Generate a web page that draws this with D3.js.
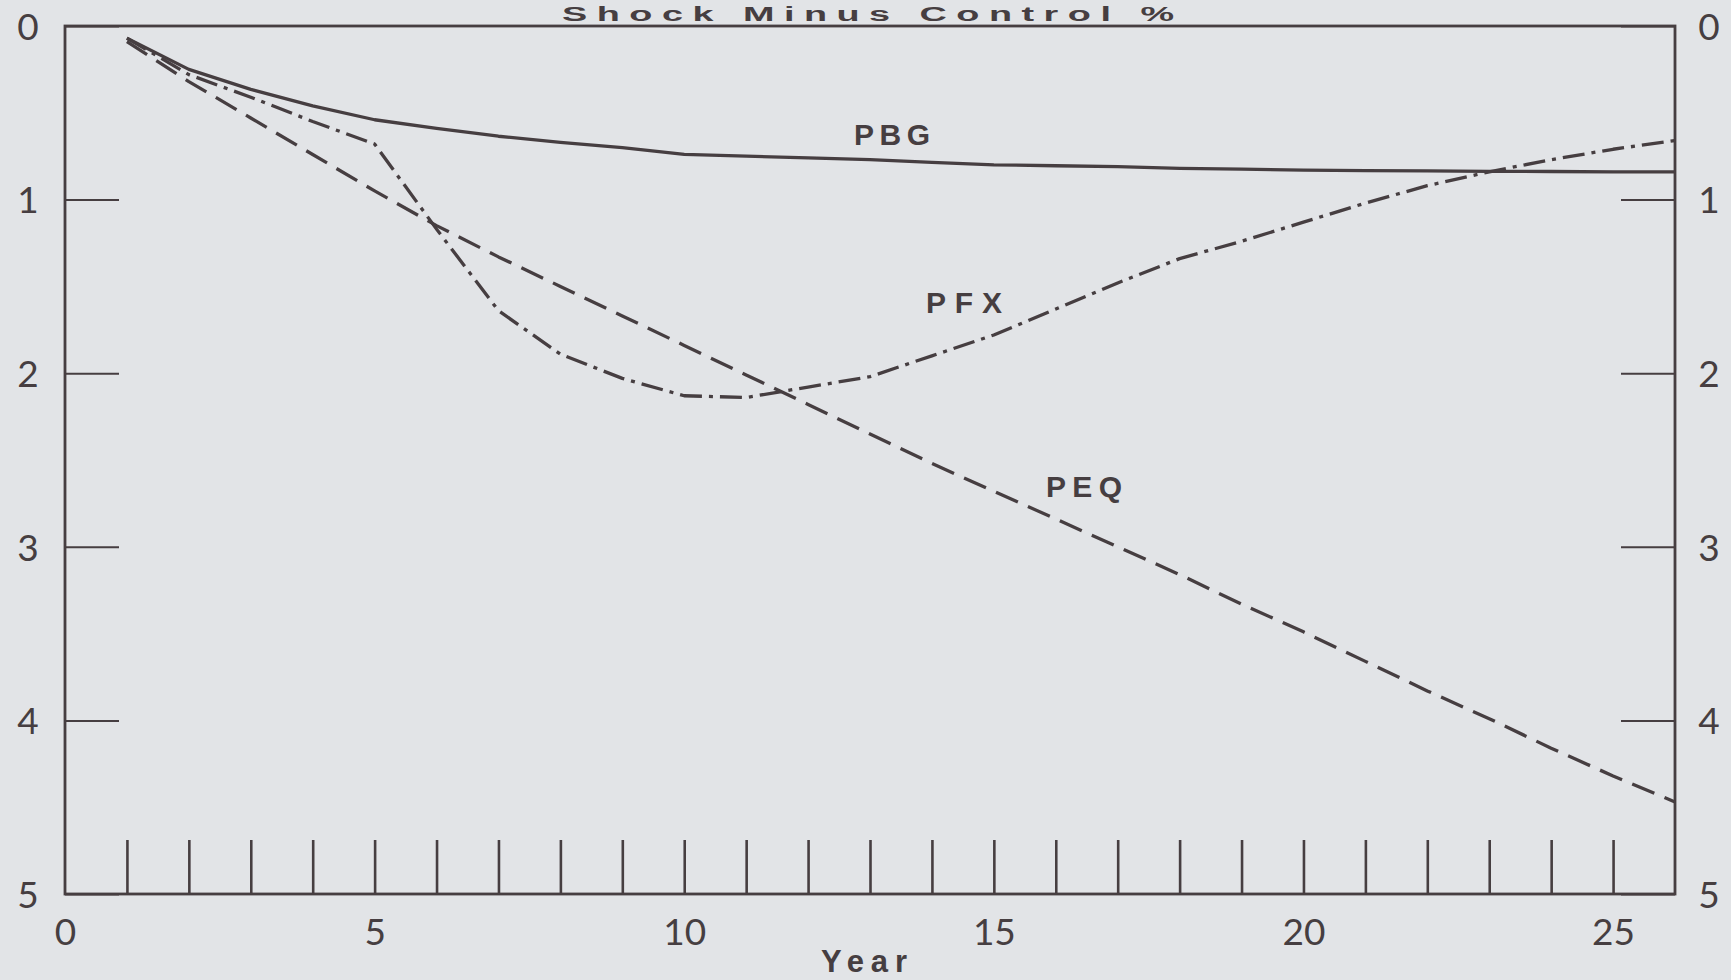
<!DOCTYPE html>
<html>
<head>
<meta charset="utf-8">
<script src="https://cdn.jsdelivr.net/npm/d3@7"></script>
<style>
  html, body { margin: 0; padding: 0; background: #e2e4e7; }
  svg { display: block; }
</style>
</head>
<body>
<svg id="chart" width="1731" height="980"></svg>
<script>
// Years after the shock
const years = d3.range(1, 27);

// Deviation from control path, percent (plotted downward)
const pbg = [0.07, 0.25, 0.365, 0.46, 0.54, 0.59, 0.635, 0.67, 0.70, 0.74,
             0.75, 0.76, 0.77, 0.785, 0.80, 0.805, 0.81, 0.82, 0.825, 0.83,
             0.833, 0.835, 0.837, 0.838, 0.84, 0.84];
const pfx = [0.07, 0.28, 0.41, 0.55, 0.68, 1.17, 1.64, 1.89, 2.03, 2.13,
             2.14, 2.08, 2.02, 1.90, 1.78, 1.63, 1.48, 1.34, 1.24, 1.13,
             1.02, 0.92, 0.84, 0.77, 0.71, 0.66];
const peq = [0.09, 0.32, 0.53, 0.74, 0.95, 1.15, 1.33, 1.50, 1.67, 1.84,
             2.01, 2.18, 2.35, 2.52, 2.68, 2.84, 3.00, 3.16, 3.33, 3.49,
             3.66, 3.83, 3.99, 4.16, 4.32, 4.47];

const seriesNames = ["PBG", "PFX", "PEQ"];
const yTickValues = [0, 1, 2, 3, 4, 5];
const xLabelValues = [0, 5, 10, 15, 20, 25];
const xTickValues = d3.range(1, 26);

const ink = "#463e41";
const svg = d3.select("#chart");

const x = d3.scaleLinear().domain([0, 26]).range([65, 1675]);
const y = d3.scaleLinear().domain([0, 5]).range([26, 894]);

const tickLen = 54;
const labelFont = "Lato, 'Open Sans', sans-serif";
const boldFont = "'Liberation Sans', Arial, Helvetica, sans-serif";

// Title in the strip above the frame, glyphs widened horizontally
svg.append("text")
  .attr("transform", "translate(868,21) scale(1.8,1)")
  .attr("x", 0).attr("y", 0)
  .attr("text-anchor", "middle")
  .attr("font-family", boldFont)
  .attr("font-weight", "bold")
  .attr("font-size", 21)
  .attr("textLength", 340)
  .attr("lengthAdjust", "spacing")
  .attr("fill", ink)
  .text("Shock Minus Control %");

// Left axis: inward ticks, centred labels
const gLeft = svg.append("g")
  .attr("transform", `translate(${x(0)},0)`)
  .call(d3.axisLeft(y).tickValues(yTickValues).tickSize(-tickLen).tickFormat(d3.format("d")));
gLeft.select(".domain").remove();
gLeft.selectAll("line").attr("stroke", ink).attr("stroke-width", 2);
gLeft.selectAll("text")
  .attr("x", -37).attr("text-anchor", "middle").attr("dy", "0.36em")
  .attr("font-family", labelFont).attr("font-weight", 400)
  .attr("font-size", 37).attr("fill", ink);

// Right axis
const gRight = svg.append("g")
  .attr("transform", `translate(${x(26)},0)`)
  .call(d3.axisRight(y).tickValues(yTickValues).tickSize(-tickLen).tickFormat(d3.format("d")));
gRight.select(".domain").remove();
gRight.selectAll("line").attr("stroke", ink).attr("stroke-width", 2);
gRight.selectAll("text")
  .attr("x", 34).attr("text-anchor", "middle").attr("dy", "0.36em")
  .attr("font-family", labelFont).attr("font-weight", 400)
  .attr("font-size", 37).attr("fill", ink);

// Bottom axis: a tick for every year, labels every five years
const gBottomTicks = svg.append("g")
  .attr("transform", `translate(0,${y(5)})`)
  .call(d3.axisBottom(x).tickValues(xTickValues).tickSize(-tickLen).tickFormat(""));
gBottomTicks.select(".domain").remove();
gBottomTicks.selectAll("line").attr("stroke", ink).attr("stroke-width", 2.6);

const gBottomLabels = svg.append("g")
  .attr("transform", `translate(0,${y(5)})`)
  .call(d3.axisBottom(x).tickValues(xLabelValues).tickSize(0).tickFormat(d3.format("d")));
gBottomLabels.select(".domain").remove();
gBottomLabels.selectAll("text")
  .attr("y", 38).attr("dy", "0.36em")
  .attr("font-family", labelFont).attr("font-weight", 400)
  .attr("font-size", 37).attr("fill", ink);

// Plot frame
svg.append("rect")
  .attr("x", x(0)).attr("y", y(0))
  .attr("width", x(26) - x(0)).attr("height", y(5) - y(0))
  .attr("fill", "none").attr("stroke", ink).attr("stroke-width", 2.8);

// X-axis title
svg.append("text")
  .attr("x", 864).attr("y", 972)
  .attr("text-anchor", "middle")
  .attr("font-family", boldFont).attr("font-weight", "bold")
  .attr("font-size", 31)
  .attr("textLength", 86).attr("lengthAdjust", "spacing")
  .attr("fill", ink)
  .text("Year");

// Series lines
const line = d3.line()
  .x((d, i) => x(years[i]))
  .y(d => y(d));

const seriesData = [pbg, pfx, peq];
const dashes = [null, "22,7,4,7", "24,11"];

svg.append("g").selectAll("path")
  .data(seriesData)
  .join("path")
  .attr("d", d => line(d))
  .attr("fill", "none")
  .attr("stroke", ink)
  .attr("stroke-width", 3.3)
  .attr("stroke-linejoin", "round")
  .attr("stroke-dasharray", (d, i) => dashes[i]);

// Series labels
const labelPos = [
  { name: seriesNames[0], x: 892, y: 145 },
  { name: seriesNames[1], x: 964, y: 313 },
  { name: seriesNames[2], x: 1084, y: 497 }
];
svg.append("g").selectAll("text")
  .data(labelPos)
  .join("text")
  .attr("x", d => d.x).attr("y", d => d.y)
  .attr("text-anchor", "middle")
  .attr("font-family", boldFont).attr("font-weight", "bold")
  .attr("font-size", 30)
  .attr("textLength", 76).attr("lengthAdjust", "spacing")
  .attr("fill", ink)
  .text(d => d.name);
</script>
</body>
</html>
